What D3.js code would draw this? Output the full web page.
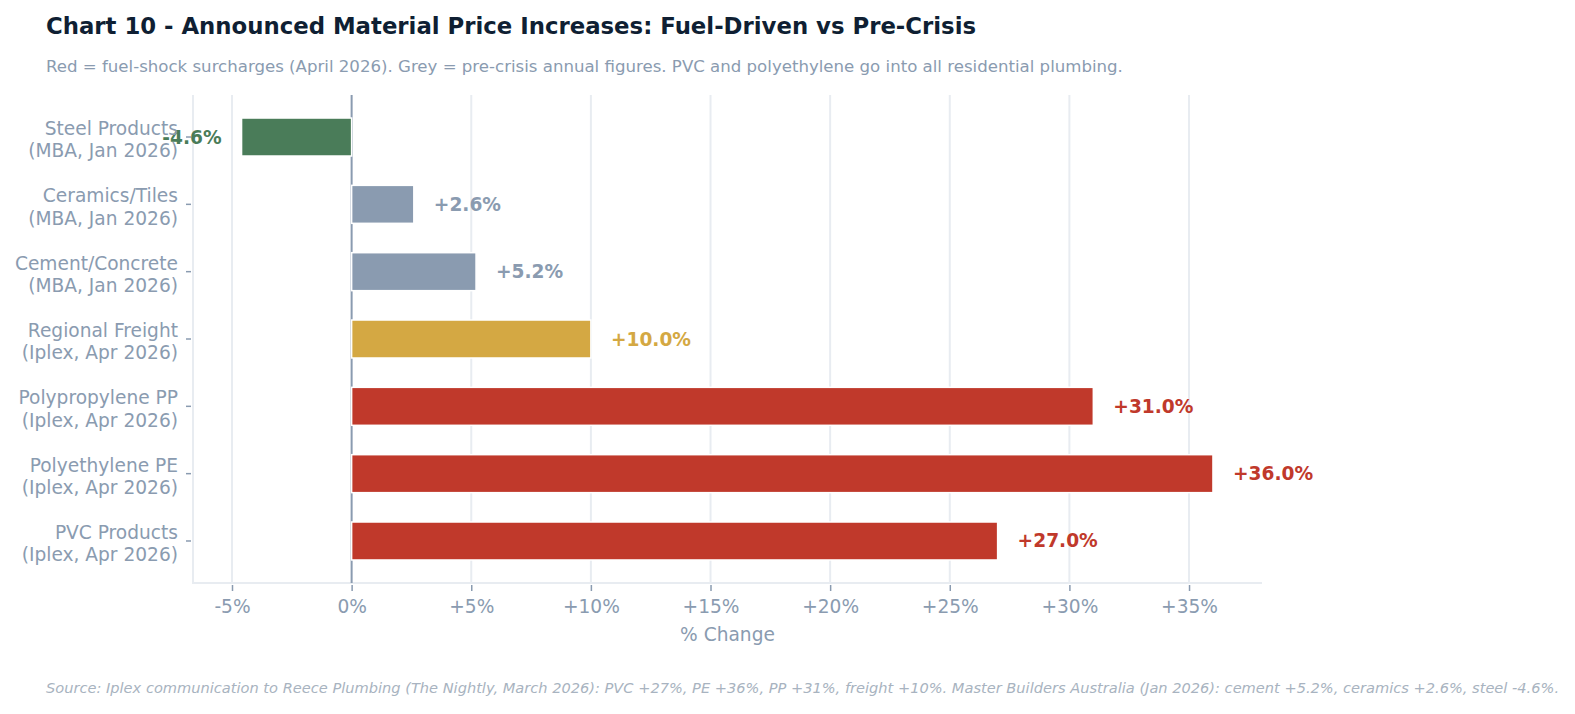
<!DOCTYPE html>
<html>
<head>
<meta charset="utf-8">
<script src="https://cdn.jsdelivr.net/npm/d3@7"></script>
<style>
  html, body { margin: 0; padding: 0; background: #ffffff; }
  svg { display: block; font-family: "DejaVu Sans", sans-serif; }
</style>
</head>
<body>
<svg id="chart" width="1575" height="714"></svg>
<script>
const categories = [
  ["Steel Products", "(MBA, Jan 2026)"],
  ["Ceramics/Tiles", "(MBA, Jan 2026)"],
  ["Cement/Concrete", "(MBA, Jan 2026)"],
  ["Regional Freight", "(Iplex, Apr 2026)"],
  ["Polypropylene PP", "(Iplex, Apr 2026)"],
  ["Polyethylene PE", "(Iplex, Apr 2026)"],
  ["PVC Products", "(Iplex, Apr 2026)"]
];
const values = [-4.6, 2.6, 5.2, 10.0, 31.0, 36.0, 27.0];
const groups = ["steel", "pre", "pre", "freight", "fuel", "fuel", "fuel"];
const xTicks = [-5, 0, 5, 10, 15, 20, 25, 30, 35];
const xDomain = [-6.63, 38.05];

const title = "Chart 10 - Announced Material Price Increases: Fuel-Driven vs Pre-Crisis";
const subtitle = "Red = fuel-shock surcharges (April 2026). Grey = pre-crisis annual figures. PVC and polyethylene go into all residential plumbing.";
const source = "Source: Iplex communication to Reece Plumbing (The Nightly, March 2026): PVC +27%, PE +36%, PP +31%, freight +10%. Master Builders Australia (Jan 2026): cement +5.2%, ceramics +2.6%, steel -4.6%.";
const xTitle = "% Change";

const colors = { steel: "#4a7c59", pre: "#8a9bb0", freight: "#d4a843", fuel: "#c0392b" };
const muted = "#8a9bb0";
const gridC = "#e8ecf1";
const fs = 18.6;

const plot = { left: 193, right: 1262, top: 95, bottom: 583 };
const svg = d3.select("#chart");

const keys = categories.map((c, i) => i);
const x = d3.scaleLinear().domain(xDomain).range([plot.left, plot.right]);
const y = d3.scaleBand().domain(keys).range([plot.top, plot.bottom])
  .paddingInner(0.436).paddingOuter(0.342);

// gridlines
svg.append("g").selectAll("line").data(xTicks.filter(t => t !== 0)).join("line")
  .attr("x1", d => x(d)).attr("x2", d => x(d))
  .attr("y1", plot.top).attr("y2", plot.bottom)
  .attr("stroke", gridC).attr("stroke-width", 2);

// axis frame lines (left + bottom)
svg.append("line").attr("x1", plot.left).attr("x2", plot.left)
  .attr("y1", plot.top).attr("y2", plot.bottom + 1)
  .attr("stroke", gridC).attr("stroke-width", 2);
svg.append("line").attr("x1", plot.left).attr("x2", plot.right)
  .attr("y1", plot.bottom).attr("y2", plot.bottom)
  .attr("stroke", gridC).attr("stroke-width", 2);

// zero line
svg.append("line").attr("x1", x(0)).attr("x2", x(0))
  .attr("y1", plot.top).attr("y2", plot.bottom)
  .attr("stroke", muted).attr("stroke-width", 2);

// bars
svg.append("g").selectAll("rect").data(values).join("rect")
  .attr("x", d => Math.min(x(0), x(d)))
  .attr("width", d => Math.abs(x(d) - x(0)))
  .attr("y", (d, i) => y(i))
  .attr("height", y.bandwidth())
  .attr("fill", (d, i) => colors[groups[i]])
  .attr("stroke", "#ffffff").attr("stroke-width", 1.5);

// value labels
svg.append("g").selectAll("text").data(values).join("text")
  .attr("x", d => d >= 0 ? x(d) + 20 : x(d) - 20)
  .attr("y", (d, i) => y(i) + y.bandwidth() / 2)
  .attr("dy", "0.35em")
  .attr("text-anchor", d => d >= 0 ? "start" : "end")
  .attr("font-size", fs).attr("font-weight", "bold")
  .attr("fill", (d, i) => colors[groups[i]])
  .text(d => (d >= 0 ? "+" : "") + d.toFixed(1) + "%");

// x axis
const xAxis = d3.axisBottom(x).tickValues(xTicks)
  .tickFormat(d => d > 0 ? "+" + d + "%" : d + "%")
  .tickSize(6).tickPadding(9);
const gx = svg.append("g").attr("transform", `translate(0,${plot.bottom + 2})`).call(xAxis);
gx.select(".domain").remove();
gx.selectAll(".tick line").attr("stroke", muted).attr("stroke-width", 1.5);
gx.selectAll(".tick text").attr("fill", muted).attr("font-size", fs)
  .attr("font-family", "DejaVu Sans, sans-serif");

// y axis ticks and labels
const gy = svg.append("g");
keys.forEach(i => {
  const cy = y(i) + y.bandwidth() / 2;
  gy.append("line").attr("x1", plot.left - 7).attr("x2", plot.left - 2)
    .attr("y1", cy).attr("y2", cy).attr("stroke", muted).attr("stroke-width", 1.5);
  const t = gy.append("text").attr("x", plot.left - 15).attr("y", cy)
    .attr("text-anchor", "end").attr("font-size", fs).attr("fill", muted);
  t.append("tspan").attr("x", plot.left - 15).attr("dy", "-0.1em").text(categories[i][0]);
  t.append("tspan").attr("x", plot.left - 15).attr("dy", "1.2em").text(categories[i][1]);
});

// x title
svg.append("text").attr("x", (plot.left + plot.right) / 2).attr("y", 641)
  .attr("text-anchor", "middle").attr("font-size", fs).attr("fill", muted).text(xTitle);

// titles
svg.append("text").attr("x", 46).attr("y", 34).attr("font-size", 22.8)
  .attr("font-weight", "bold").attr("fill", "#0f1f33").text(title);
svg.append("text").attr("x", 46).attr("y", 72).attr("font-size", 16.6)
  .attr("fill", muted).text(subtitle);
svg.append("text").attr("x", 46).attr("y", 693).attr("font-size", 14.6)
  .attr("font-style", "italic").attr("fill", "#a8b3c0").text(source);
</script>
</body>
</html>
